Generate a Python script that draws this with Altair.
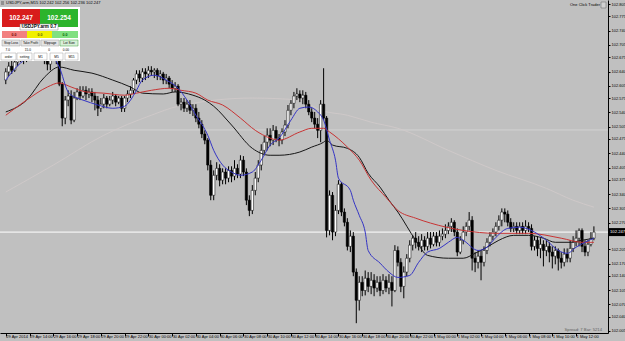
import altair as alt
import pandas as pd

BASE = 102.0  # prices below are thousandths above 102.000

opens = [619, 639, 653, 643, 663, 673, 680, 668, 688, 697,
         692, 707, 700, 688, 678, 658, 678, 688, 668, 609,
         526, 570, 580, 521, 575, 590, 580, 594, 585, 590,
         580, 570, 550, 560, 575, 560, 570, 580, 565, 575,
         550, 575, 585, 594, 619, 634, 624, 639, 634, 643,
         639, 643, 629, 634, 619, 624, 609, 599, 604, 560,
         565, 550, 560, 545, 550, 526, 511, 487, 472, 411,
         337, 386, 403, 374, 394, 379, 398, 384, 403, 389,
         423, 394, 325, 300, 349, 379, 411, 447, 467, 484,
         472, 496, 477, 472, 492, 509, 545, 562, 580, 585,
         575, 582, 560, 541, 526, 511, 496, 560, 526, 251,
         337, 247, 300, 364, 296, 271, 212, 237, 149, 80,
         124, 104, 134, 114, 129, 110, 124, 104, 129, 110,
         124, 104, 202, 173, 114, 149, 183, 215, 232, 222,
         212, 227, 212, 232, 217, 237, 222, 237, 242, 251,
         261, 271, 247, 198, 227, 247, 261, 276, 183, 173,
         188, 173, 202, 222, 237, 247, 261, 276, 296, 291,
         271, 256, 261, 251, 261, 251, 261, 256, 212, 227,
         207, 217, 202, 212, 198, 188, 202, 183, 173, 193,
         183, 207, 222, 232, 251, 212, 198, 217, 232]
highs = [648, 663, 668, 673, 688, 692, 688, 702, 712, 717,
         722, 717, 707, 697, 688, 683, 697, 692, 673, 614,
         580, 594, 594, 590, 599, 604, 604, 604, 599, 599,
         590, 580, 575, 585, 580, 580, 590, 585, 580, 580,
         580, 594, 604, 624, 643, 643, 648, 648, 653, 653,
         648, 648, 643, 639, 634, 629, 619, 614, 609, 575,
         575, 570, 570, 560, 560, 541, 521, 496, 477, 423,
         398, 418, 413, 403, 403, 408, 408, 423, 413, 435,
         433, 403, 337, 362, 394, 423, 462, 482, 501, 501,
         509, 506, 487, 501, 521, 558, 570, 590, 599, 594,
         594, 590, 570, 550, 541, 526, 570, 648, 531, 349,
         345, 313, 374, 369, 305, 281, 251, 247, 158, 139,
         139, 153, 149, 149, 144, 139, 139, 144, 139, 144,
         139, 215, 212, 183, 163, 193, 227, 239, 247, 237,
         242, 237, 247, 247, 247, 247, 251, 256, 266, 271,
         281, 276, 256, 237, 261, 271, 296, 286, 198, 202,
         202, 212, 232, 247, 256, 271, 288, 305, 305, 300,
         281, 271, 271, 271, 271, 276, 271, 266, 237, 237,
         232, 227, 227, 222, 212, 212, 207, 198, 207, 207,
         227, 237, 251, 256, 256, 227, 227, 247, 261]
lows = [609, 629, 634, 639, 653, 663, 658, 663, 678, 683,
        683, 688, 673, 658, 643, 643, 668, 658, 604, 506,
        511, 555, 511, 516, 570, 570, 575, 570, 575, 565,
        545, 531, 541, 550, 550, 555, 560, 555, 560, 541,
        541, 565, 575, 585, 609, 614, 614, 619, 624, 629,
        624, 619, 619, 609, 609, 599, 590, 590, 555, 545,
        541, 541, 536, 531, 516, 501, 477, 462, 398, 325,
        325, 374, 359, 364, 364, 369, 369, 374, 379, 379,
        384, 313, 286, 291, 337, 369, 398, 435, 447, 457,
        460, 467, 457, 462, 482, 501, 533, 550, 570, 565,
        560, 550, 533, 516, 501, 477, 467, 521, 234, 239,
        227, 237, 291, 286, 261, 202, 198, 139, 24, 55,
        90, 92, 100, 95, 90, 100, 90, 95, 100, 95,
        65, 100, 163, 100, 85, 139, 173, 202, 207, 202,
        198, 202, 202, 207, 212, 212, 212, 227, 232, 242,
        247, 237, 188, 193, 217, 237, 251, 153, 149, 158,
        129, 163, 193, 212, 227, 237, 251, 261, 271, 261,
        247, 247, 242, 242, 242, 242, 247, 202, 202, 188,
        183, 163, 188, 173, 158, 168, 153, 158, 163, 173,
        173, 198, 212, 212, 198, 188, 188, 212, 227]
closes = [639, 653, 643, 663, 673, 680, 668, 688, 697, 692,
          707, 700, 688, 678, 658, 678, 688, 668, 609, 526,
          570, 580, 521, 575, 590, 580, 594, 585, 590, 580,
          570, 550, 560, 575, 560, 570, 580, 565, 575, 550,
          575, 585, 594, 619, 634, 624, 639, 634, 643, 639,
          643, 629, 634, 619, 624, 609, 599, 604, 560, 565,
          550, 560, 545, 550, 526, 511, 487, 472, 411, 337,
          386, 403, 374, 394, 379, 398, 384, 403, 389, 423,
          394, 325, 300, 349, 379, 411, 447, 467, 484, 472,
          496, 477, 472, 492, 509, 545, 562, 580, 585, 575,
          582, 560, 541, 526, 511, 496, 560, 526, 251, 337,
          247, 300, 364, 296, 271, 212, 237, 149, 80, 124,
          104, 134, 114, 129, 110, 124, 104, 129, 110, 124,
          104, 202, 173, 114, 149, 183, 215, 232, 222, 212,
          227, 212, 232, 217, 237, 222, 237, 242, 251, 261,
          271, 247, 198, 227, 247, 261, 276, 183, 173, 188,
          173, 202, 222, 237, 247, 261, 276, 296, 291, 271,
          256, 261, 251, 261, 251, 261, 256, 212, 227, 207,
          217, 202, 212, 198, 188, 202, 183, 173, 193, 183,
          207, 222, 232, 251, 212, 198, 217, 232, 247]

# moving averages (bar index, thousandths above 102.000)
blue_bars = [0, 5, 10, 15, 18, 21, 24, 26, 31, 36, 40, 42, 44, 46, 50, 54, 58, 61, 64, 68,
             70, 73, 76, 79, 83, 86, 89, 92, 96, 99, 102, 105, 107, 109, 111, 112, 116, 117, 119, 121,
             122, 126, 129, 132, 136, 139, 142, 146, 149, 152, 154, 159, 162, 165, 169, 173, 178, 182, 186, 189,
             192, 195, 198]
blue_vals = [619, 661, 680, 680, 651, 590, 575, 570, 558, 550, 555, 570, 594, 619, 631, 619, 599, 570, 533, 484,
             447, 411, 394, 386, 394, 423, 460, 477, 521, 550, 553, 541, 521, 472, 423, 379, 349, 325, 288, 247,
             202, 171, 149, 136, 141, 173, 198, 207, 222, 234, 227, 202, 210, 234, 256, 259, 247, 227, 202, 195,
             210, 222, 232]
red_bars = [0, 7, 14, 18, 22, 27, 33, 40, 44, 49, 55, 59, 64, 68, 73, 79, 84, 89, 92, 99,
            103, 107, 109, 115, 119, 123, 128, 132, 138, 143, 154, 165, 176, 187, 194, 198]
red_vals = [533, 570, 602, 612, 602, 590, 587, 582, 587, 594, 599, 594, 587, 570, 558, 526, 496, 477, 472, 492,
            501, 501, 492, 455, 423, 374, 332, 300, 281, 269, 251, 244, 244, 232, 222, 222]
black_bars = [0, 7, 13, 18, 23, 29, 36, 42, 46, 53, 57, 63, 67, 70, 76, 83, 89, 92, 99, 103,
              107, 108, 110, 115, 119, 122, 126, 129, 132, 138, 142, 149, 154, 158, 162, 166, 171, 176, 181, 185,
              190, 194, 198]
black_vals = [541, 570, 626, 651, 643, 636, 619, 602, 587, 585, 590, 582, 570, 555, 509, 452, 435, 435, 443, 455,
              467, 472, 460, 452, 430, 391, 357, 325, 296, 227, 190, 183, 183, 195, 210, 227, 239, 239, 232, 222,
              222, 227, 232]
long_bars = [0, 16, 33, 49, 58, 83, 99, 106, 115, 123, 132, 149, 165, 182, 191, 198]
long_vals = [345, 411, 484, 533, 555, 575, 570, 545, 533, 516, 501, 447, 398, 354, 325, 308]

level_price = 102.497
bid_price = 102.247

tick_bars = list(range(0, 193, 8))
tick_labels = ["29 Apr 2014", "29 Apr 14:00", "29 Apr 16:00", "29 Apr 18:00", "29 Apr 20:00",
               "29 Apr 22:00", "30 Apr 00:00", "30 Apr 02:00", "30 Apr 04:00", "30 Apr 06:00",
               "30 Apr 08:00", "30 Apr 10:00", "30 Apr 12:00", "30 Apr 14:00", "30 Apr 16:00",
               "30 Apr 18:00", "30 Apr 20:00", "30 Apr 22:00", "1 May 00:00", "1 May 02:00",
               "1 May 04:00", "1 May 06:00", "1 May 08:00", "1 May 10:00", "1 May 12:00"]
# the 102.240 label sits under the bid box in the reference, so it is not listed
price_ticks = [102.805, 102.775, 102.740, 102.705, 102.675, 102.640, 102.605, 102.575, 102.540,
               102.505, 102.475, 102.440, 102.405, 102.375, 102.340, 102.305, 102.270,
               102.205, 102.170, 102.140, 102.105, 102.070, 102.040, 102.005]

def px(v):
    return round(BASE + v / 1000.0, 3)

candles = pd.DataFrame({
    "bar": list(range(len(closes))),
    "open": [px(v) for v in opens],
    "high": [px(v) for v in highs],
    "low": [px(v) for v in lows],
    "close": [px(v) for v in closes],
})
candles["dir"] = ["up" if c >= o else "down" for o, c in zip(opens, closes)]

def ma_df(b, v):
    return pd.DataFrame({"bar": b, "price": [px(x) for x in v]})

x_scale = alt.Scale(domain=[-0.265, 201.06], nice=False, zero=False)
y_scale = alt.Scale(domain=[102.0, 102.815], nice=False, zero=False)

expr = "''"
for b, lab in reversed(list(zip(tick_bars, tick_labels))):
    expr = f"datum.value == {b} ? '{lab}' : ({expr})"

FONT = "Liberation Sans"

x_axis = alt.Axis(values=tick_bars, labelExpr=expr, title=None, grid=False, labelFont=FONT,
                  labelFontSize=4, labelColor="black", labelAlign="left", labelBaseline="top",
                  labelPadding=-2, tickSize=3, tickColor="black", domainColor="black",
                  labelOverlap=False, labelBound=False, labelFlush=False, labelAngle=0)
y_axis = alt.Axis(values=price_ticks, format=".3f", orient="right", title=None, grid=False,
                  labelFont=FONT, labelFontSize=4, labelColor="black", labelPadding=1,
                  tickSize=2, tickColor="black", domainColor="black", labelOverlap=False,
                  labelBound=False, labelFlush=False)

def X(field):
    return alt.X(field, scale=x_scale, axis=x_axis, title=None)

def Y(field):
    return alt.Y(field, scale=y_scale, axis=y_axis, title=None)

levels = alt.Chart(pd.DataFrame({"price": [level_price]})).mark_rule(
    color="#d2d2d2", strokeWidth=1).encode(y=Y("price:Q"))
bidline = alt.Chart(pd.DataFrame({"price": [bid_price]})).mark_rule(
    color="#ffffff", strokeWidth=1).encode(y=Y("price:Q"))

long_ma = alt.Chart(ma_df(long_bars, long_vals)).mark_line(
    color="#d2caca", strokeWidth=0.8, interpolate="monotone").encode(x=X("bar:Q"), y=Y("price:Q"))

wicks = alt.Chart(candles).mark_rule(color="black", strokeWidth=1).encode(
    x=X("bar:Q"), y=Y("low:Q"), y2="high:Q")
bodies = alt.Chart(candles).mark_bar(size=2.4, stroke="black", strokeWidth=0.5).encode(
    x=X("bar:Q"), y=Y("open:Q"), y2="close:Q",
    fill=alt.Fill("dir:N", scale=alt.Scale(domain=["up", "down"], range=["white", "black"]), legend=None))

def ma_line(b, v, color):
    return alt.Chart(ma_df(b, v)).mark_line(color=color, strokeWidth=1, interpolate="monotone").encode(
        x=X("bar:Q"), y=Y("price:Q"))

black_ma = ma_line(black_bars, black_vals, "#161616")
red_ma = ma_line(red_bars, red_vals, "#c83434")
blue_ma = ma_line(blue_bars, blue_vals, "#3434c4")

bid_df = pd.DataFrame({"price": [bid_price]})
bid_box = alt.Chart(bid_df).mark_rule(color="black", strokeWidth=8, strokeCap="butt").encode(
    y=Y("price:Q"), x=alt.value(608), x2=alt.value(625))
bid_text = alt.Chart(bid_df).mark_text(color="white", fontSize=4.2, font=FONT, align="left",
                                       baseline="middle").encode(
    y=Y("price:Q"), x=alt.value(610), text=alt.Text("price:Q", format=".3f"))

dummy = pd.DataFrame({"k": [0]})

def box(x1, y1, x2, y2, fill, stroke=None, sw=0.5):
    kw = dict(fill=fill, strokeWidth=sw)
    if stroke:
        kw["stroke"] = stroke
    return alt.Chart(dummy).mark_rect(**kw).encode(
        x=alt.value(x1), x2=alt.value(x2), y=alt.value(y1), y2=alt.value(y2))

def txt(x, y, s, size=4, color="black", align="center", weight="normal"):
    return alt.Chart(dummy).mark_text(text=s, fontSize=size, color=color, align=align,
                                      baseline="middle", font=FONT, fontWeight=weight).encode(
        x=alt.value(x), y=alt.value(y))

panel = [
    box(0, 7, 80, 61, "#ffffff"),
    box(2, 9, 40, 27, "#d81c1c"),
    box(40, 9, 78, 27, "#2cb42c"),
    txt(21, 18, "102.247", 6.5, "#ffffff", weight="bold"),
    txt(59, 18, "102.254", 6.5, "#ffffff", weight="bold"),
    box(20, 24, 58, 30, "#ffffff", "#808080"),
    txt(39, 27, "USDJPY.arm 0.7", 4.6, "black", weight="bold"),
    box(2, 31, 27, 38, "#f28080"),
    box(27, 31, 52, 38, "#f0f000"),
    box(52, 31, 78, 38, "#80e080"),
    txt(14, 34.5, "0.0", 3.6, "#700000", weight="bold"),
    txt(40, 34.5, "0.0", 3.6, "#606000", weight="bold"),
    txt(65, 34.5, "0.0", 3.6, "#006000", weight="bold"),
    box(2, 40, 20, 46, "#e4e4e4", "#a0a0a0"),
    box(21, 40, 40, 46, "#e4e4e4", "#a0a0a0"),
    box(41, 40, 59, 46, "#e4e4e4", "#a0a0a0"),
    box(60, 40, 78, 46, "#d8f0d8", "#40a040"),
    txt(11, 43, "Stop Loss", 3.2),
    txt(30.5, 43, "Take Profit", 3.2),
    txt(50, 43, "Slippage", 3.2),
    txt(69, 43, "Lot Size", 3.2),
    txt(10, 50, "7.0", 3.2, align="right"),
    txt(31, 50, "15.0", 3.2, align="right"),
    txt(50, 50, "0", 3.2, align="right"),
    txt(69, 50, "0.00", 3.2, align="right"),
    box(1, 53, 16, 60, "#ffffff", "#a0a0a0"),
    box(17, 53, 32, 60, "#ffffff", "#a0a0a0"),
    box(34, 53, 47, 60, "#ffffff", "#a0a0a0"),
    box(50, 53, 63, 60, "#ffffff", "#a0a0a0"),
    box(65, 53, 78, 60, "#ffffff", "#a0a0a0"),
    txt(8.5, 56.5, "order", 3.2),
    txt(24.5, 56.5, "setting", 3.2),
    txt(40.5, 56.5, "M1", 3.2),
    txt(56.5, 56.5, "M5", 3.2),
    txt(71.5, 56.5, "M15", 3.2),
    box(1, 1, 4, 5, "#909090"),
    txt(6, 3, "USDJPY,arm,M15  102.242 102.256 102.236 102.247", 4, align="left"),
    txt(600, 5, "One Click Trader", 4, align="right"),
    box(601, 2, 606, 8, "#d0d0d0", "#606060"),
    txt(602, 329.5, "Spread: 7    Bar: 5214", 4.2, "#606060", align="right"),
]

chart = alt.layer(
    levels, bidline, long_ma, wicks, bodies, black_ma, red_ma, blue_ma, bid_box, bid_text, *panel
).properties(
    width=608, height=333,
    autosize=alt.AutoSizeParams(type="none"),
    padding={"left": 0, "top": 0, "right": 17, "bottom": 8},
    background="#c0c0c0",
).configure_view(stroke=None, fill="#c0c0c0")

chart.save("out.html", embed_options={"renderer": "svg", "actions": False})
